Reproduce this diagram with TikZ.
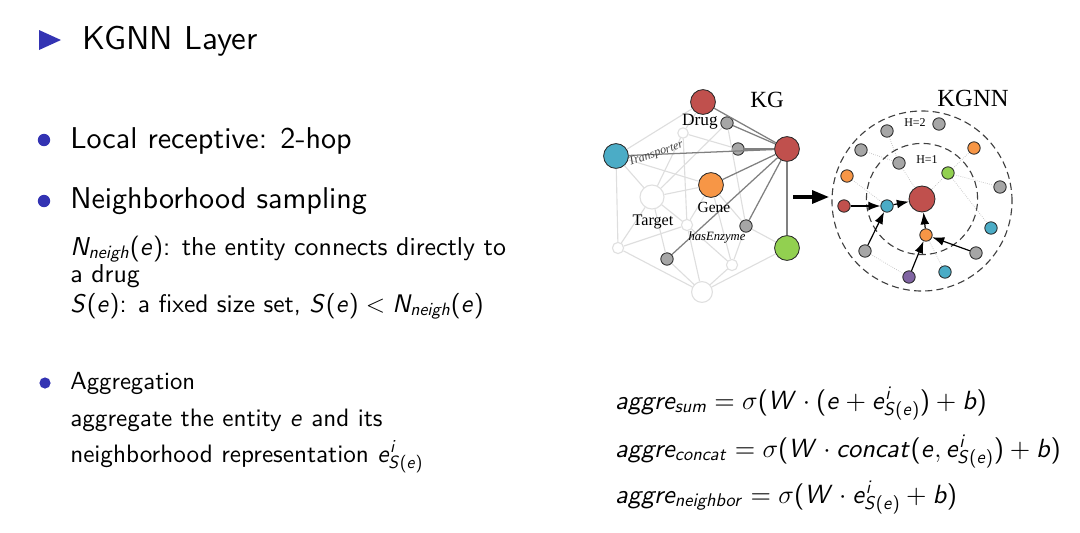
\RequirePackage{fix-cm}
\documentclass[tikz,border=0pt]{standalone}
\usepackage[no-math]{fontspec}
\setsansfont{lmsans10-regular.otf}[ItalicFont=lmsans10-oblique.otf, BoldFont=lmsans10-bold.otf]
\newfontfamily\kgfont{Liberation Serif}
\usetikzlibrary{arrows.meta}

% sans serif math, as on the slide
\DeclareFontFamily{OT1}{sfm}{}
\DeclareFontShape{OT1}{sfm}{m}{n}{<->cmss10}{}
\DeclareFontShape{OT1}{sfm}{m}{sl}{<->cmssi10}{}
\DeclareSymbolFont{operators}{OT1}{sfm}{m}{n}
\DeclareSymbolFont{sfletters}{OT1}{sfm}{m}{sl}
\makeatletter
\def\sfletter#1{\DeclareMathSymbol{#1}{\mathalpha}{sfletters}{`#1}}
\@tfor\ch:=abcdefghijklmnopqrstuvwxyzABCDEFGHIJKLMNOPQRSTUVWXYZ\do{\expandafter\sfletter\expandafter{\ch}}
\makeatother

\definecolor{slideblue}{RGB}{51,51,179}
\definecolor{kgred}{RGB}{192,80,77}
\definecolor{kgblue}{RGB}{75,172,198}
\definecolor{kgorange}{RGB}{247,150,70}
\definecolor{kggreen}{RGB}{146,208,80}
\definecolor{kggray}{RGB}{166,166,166}
\definecolor{kgpurple}{RGB}{128,100,162}

\newcommand{\fs}[1]{\fontsize{#1}{1.2\dimexpr#1pt\relax}\selectfont}

\begin{document}
\begin{tikzpicture}[x=0.025cm, y=-0.025cm, font=\sffamily,
    line/.style={anchor=base west, inner sep=0pt},
    dot/.style={circle, fill=slideblue, inner sep=0pt, minimum size=0.31cm},
    ent/.style={circle, draw=black!85, line width=0.6pt, inner sep=0pt},
    bigent/.style={ent, minimum size=0.62cm},
    smallent/.style={ent, minimum size=0.31cm},
    ghost/.style={circle, draw=black!12, line width=0.8pt, fill=white, inner sep=0pt, minimum size=0.28cm},
    bigghost/.style={ghost, minimum size=0.6cm},
    faint/.style={draw=black!13, line width=0.8pt},
    dark/.style={draw=black!50, line width=0.9pt},
    hop/.style={draw=black!25, densely dotted, line width=0.5pt},
    agg/.style={-{Latex[length=0.3cm, width=0.22cm]}, line width=0.85pt},
    ring/.style={draw=black!75, line width=0.8pt, dash pattern=on 5pt off 3pt},
    kglabel/.style={font=\kgfont\fs{11}, inner sep=0pt}]

    \useasboundingbox (0,0) rectangle (1080,533);

    % title
    \fill[slideblue] (39,30) -- (61,40) -- (39,50) -- cycle;
    \node[line, font=\sffamily\fs{23.5}] (title) at (82,49) {KGNN Layer};

    % bullets
    \node[dot] (b1) at (44,140) {};
    \node[line, font=\sffamily\fs{21.4}] (recep) at (70,148) {Local receptive: 2-hop};
    \node[dot] (b2) at (44,201) {};
    \node[line, font=\sffamily\fs{21.4}] (sampl) at (70,208) {Neighborhood sampling};
    \node[line, font=\sffamily\fs{18.4}] (neigh1) at (70,255) {$N_{neigh}(e)$: the entity connects directly to};
    \node[line, font=\sffamily\fs{18.4}] (neigh2) at (70,282) {a drug};
    \node[line, font=\sffamily\fs{18.1}] (neigh3) at (70,312) {$S(e)$: a fixed size set, $S(e) < N_{neigh}(e)$};
    \node[dot, minimum size=0.28cm] (b3) at (45,383) {};
    \node[line, font=\sffamily\fs{17.6}] (aggr) at (70,389) {Aggregation};
    \node[line, font=\sffamily\fs{17.9}] (aggr1) at (70,426) {aggregate the entity $e$ and its};
    \node[line, font=\sffamily\fs{17.9}] (aggr2) at (70,462) {neighborhood representation $e^i_{S(e)}$};

    % equations
    \node[line, font=\sffamily\fs{18.7}] (eqsum) at (615,409) {$aggre_{sum} = \sigma(W\cdot(e + e^i_{S(e)}) + b)$};
    \node[line, font=\sffamily\fs{18.7}] (eqcat) at (615,457) {$aggre_{concat} = \sigma(W\cdot concat(e, e^i_{S(e)}) + b)$};
    \node[line, font=\sffamily\fs{18.7}] (eqnb) at (615,503) {$aggre_{neighbor} = \sigma(W\cdot e^i_{S(e)} + b)$};

    % KG
    \node[bigent, fill=kgred] (drug) at (703,102) {};
    \node[smallent, fill=kggray] (k1) at (727,123) {};
    \node[bigent, fill=kgblue] (trans) at (616,156) {};
    \node[ghost, minimum size=0.26cm] (w1) at (683,133) {};
    \node[smallent, fill=kggray] (k2) at (738,149) {};
    \node[bigent, fill=kgred] (hub) at (787,149) {};
    \node[bigent, fill=kgorange] (gene) at (711,185) {};
    \node[bigghost] (w2) at (652,197) {};
    \node[ghost] (w3) at (687,225) {};
    \node[smallent, fill=kggray] (k3) at (746,226) {};
    \node[bigent, fill=kggreen] (enz) at (787,248) {};
    \node[ghost] (w4) at (618,248) {};
    \node[smallent, fill=kggray] (k4) at (667,259) {};
    \node[ghost] (w5) at (732,265) {};
    \node[bigghost, minimum size=0.52cm] (w6) at (702,292) {};

    \foreach \a/\b in {drug/trans, trans/w4, w4/w6, w6/enz, trans/w2, trans/gene, w1/w2, w1/k2,
        w1/w3, w1/drug, w2/gene, w2/w4, w2/k4, w2/k1, gene/w3, w3/w4, w3/w6, w3/w5, k3/w5,
        k3/enz, k4/w6, gene/w5, w5/w6, k1/k3, w2/w3, gene/k3}
        \draw[faint] (\a) -- (\b);
    \foreach \b in {drug, k1, k2, trans, gene, k3, k4, enz}
        \draw[dark] (hub) -- (\b);

    \node[kglabel, font=\kgfont\fs{16.5}] (kgname) at (767,100) {KG};
    \node[kglabel, font=\kgfont\fs{12.3}] (druglbl) at (700,122) {Drug};
    \node[kglabel] (genelbl) at (714,207) {Gene};
    \node[kglabel, font=\kgfont\fs{11.5}] (targetlbl) at (653,222) {Target};
    \node[kglabel, font=\kgfont\itshape\fs{9}] (enzlbl) at (717,237) {hasEnzyme};
    \node[kglabel, font=\kgfont\itshape\fs{8.5}, text=black!75, rotate=19] (translbl) at (656,154) {Transporter};

    % from KG to KGNN
    \coordinate (arrS) at (793,197);
    \coordinate (arrE) at (829,197);
    \draw[-{Triangle[length=0.42cm, width=0.32cm]}, line width=2.4pt] (arrS) -- (arrE);

    % KGNN
    \draw[ring] (922,201) circle[radius=2.25cm];
    \draw[ring] (922,199) circle[radius=1.39cm];
    \node[kglabel, font=\kgfont\fs{17.5}] (kgnnname) at (973,98) {KGNN};
    \node[kglabel, font=\kgfont\fs{8.5}] (h2) at (915,123) {H=2};
    \node[kglabel, font=\kgfont\fs{8.5}] (h1) at (927,160) {H=1};

    \node[bigent, fill=kgred, minimum size=0.65cm] (c) at (922,199) {};
    \node[smallent, fill=kgblue] (n1) at (887,206) {};
    \node[smallent, fill=kgorange] (n2) at (926,235) {};
    \node[smallent, fill=kggreen] (n3) at (948,173) {};
    \node[smallent, fill=kggray] (n4) at (899,163) {};
    \node[smallent, fill=kgred] (m1) at (844,206) {};
    \node[smallent, fill=kggray] (m2) at (865,251) {};
    \node[smallent, fill=kgpurple] (m3) at (909,277) {};
    \node[smallent, fill=kgblue] (m4) at (945,272) {};
    \node[smallent, fill=kggray] (m5) at (976,253) {};
    \node[smallent, fill=kgblue] (m6) at (991,228) {};
    \node[smallent, fill=kggray] (m7) at (1000,187) {};
    \node[smallent, fill=kgorange] (m8) at (974,148) {};
    \node[smallent, fill=kggray] (m9) at (939,124) {};
    \node[smallent, fill=kggray] (m10) at (887,131) {};
    \node[smallent, fill=kggray] (m11) at (861,150) {};
    \node[smallent, fill=kgorange] (m12) at (847,176) {};

    \foreach \a/\b in {m10/n4, m11/n4, n4/c, m12/n1, n3/c, n3/m8, n3/m7, n3/m6, n2/m4, m2/m3}
        \draw[hop] (\a) -- (\b);
    \foreach \a/\b in {m1/n1, n1/c, m2/n1, n2/c, m3/n2, m5/n2}
        \draw[agg] (\a) -- (\b);
\end{tikzpicture}
\end{document}
